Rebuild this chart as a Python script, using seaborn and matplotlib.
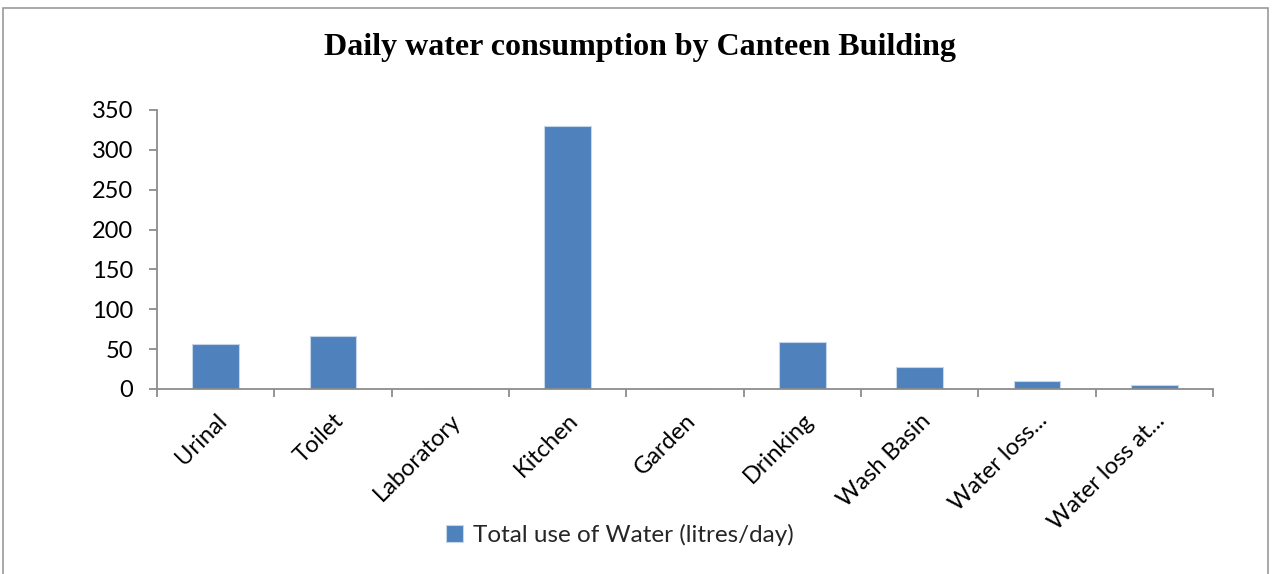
import matplotlib
matplotlib.use("Agg")
import matplotlib.pyplot as plt
import numpy as np
import pandas as pd
import seaborn as sns
from matplotlib.patches import Rectangle

categories = ["Urinal", "Toilet", "Laboratory", "Kitchen", "Garden",
              "Drinking", "Wash Basin", "Water loss...", "Water loss at..."]
litres_per_day = [57, 66, 0, 330, 0, 59.5, 27, 10.5, 5.5]
series_name = "Total use of Water (litres/day)"

df = pd.DataFrame({"use": categories, "litres": litres_per_day})

sns.set_theme(style="white")
plt.rcParams["font.family"] = ["Lato", "DejaVu Sans"]

fig = plt.figure(figsize=(12.73, 5.74), dpi=100)
ax = fig.add_axes([0.1233, 0.3223, 0.8296, 0.4861])

sns.barplot(data=df, x="use", y="litres", color="#4F81BD", width=0.4,
            saturation=1, edgecolor="#C5D5EA", linewidth=0.8, ax=ax,
            label=series_name)

ax.set_ylim(0, 350)
ax.set_yticks(np.arange(0, 351, 50))
ax.set_xlim(-0.5, len(categories) - 0.5)
ax.set_xlabel("")
ax.set_ylabel("")

for side in ["top", "right"]:
    ax.spines[side].set_visible(False)
for side in ["left", "bottom"]:
    ax.spines[side].set_color("#8C8C8C")
    ax.spines[side].set_linewidth(1.3)

ax.tick_params(axis="y", which="major", left=True, length=6, width=1.3,
               color="#8C8C8C", labelsize=17, labelcolor="black", pad=11)
ax.tick_params(axis="x", which="major", bottom=False, labelsize=17,
               labelcolor="black", pad=9)
ax.set_xticks(np.arange(-0.5, len(categories), 1.0), minor=True)
ax.tick_params(axis="x", which="minor", bottom=True, length=6, width=1.3,
               color="#8C8C8C")
for lbl in ax.get_xticklabels():
    lbl.set_rotation(45)
    lbl.set_ha("right")
    lbl.set_va("top")
    lbl.set_rotation_mode("anchor")

fig.suptitle("Daily water consumption by Canteen Building", x=0.503, y=0.942,
             fontsize=23, fontweight="bold", family="Liberation Serif",
             color="black")

fig.legend(*ax.get_legend_handles_labels(), loc="center",
           bbox_to_anchor=(620 / 1273, 1 - 535 / 574), frameon=False,
           fontsize=17.5, handlelength=0.7, handleheight=0.7,
           handletextpad=0.4)
ax.get_legend().remove() if ax.get_legend() else None

fig.patches.append(Rectangle((3 / 1273, -0.05), 1265 / 1273, 1.05 - 8 / 574,
                             transform=fig.transFigure, fill=False,
                             edgecolor="#9A9A9A", linewidth=1.2))

fig.savefig("out.png", dpi=100)
